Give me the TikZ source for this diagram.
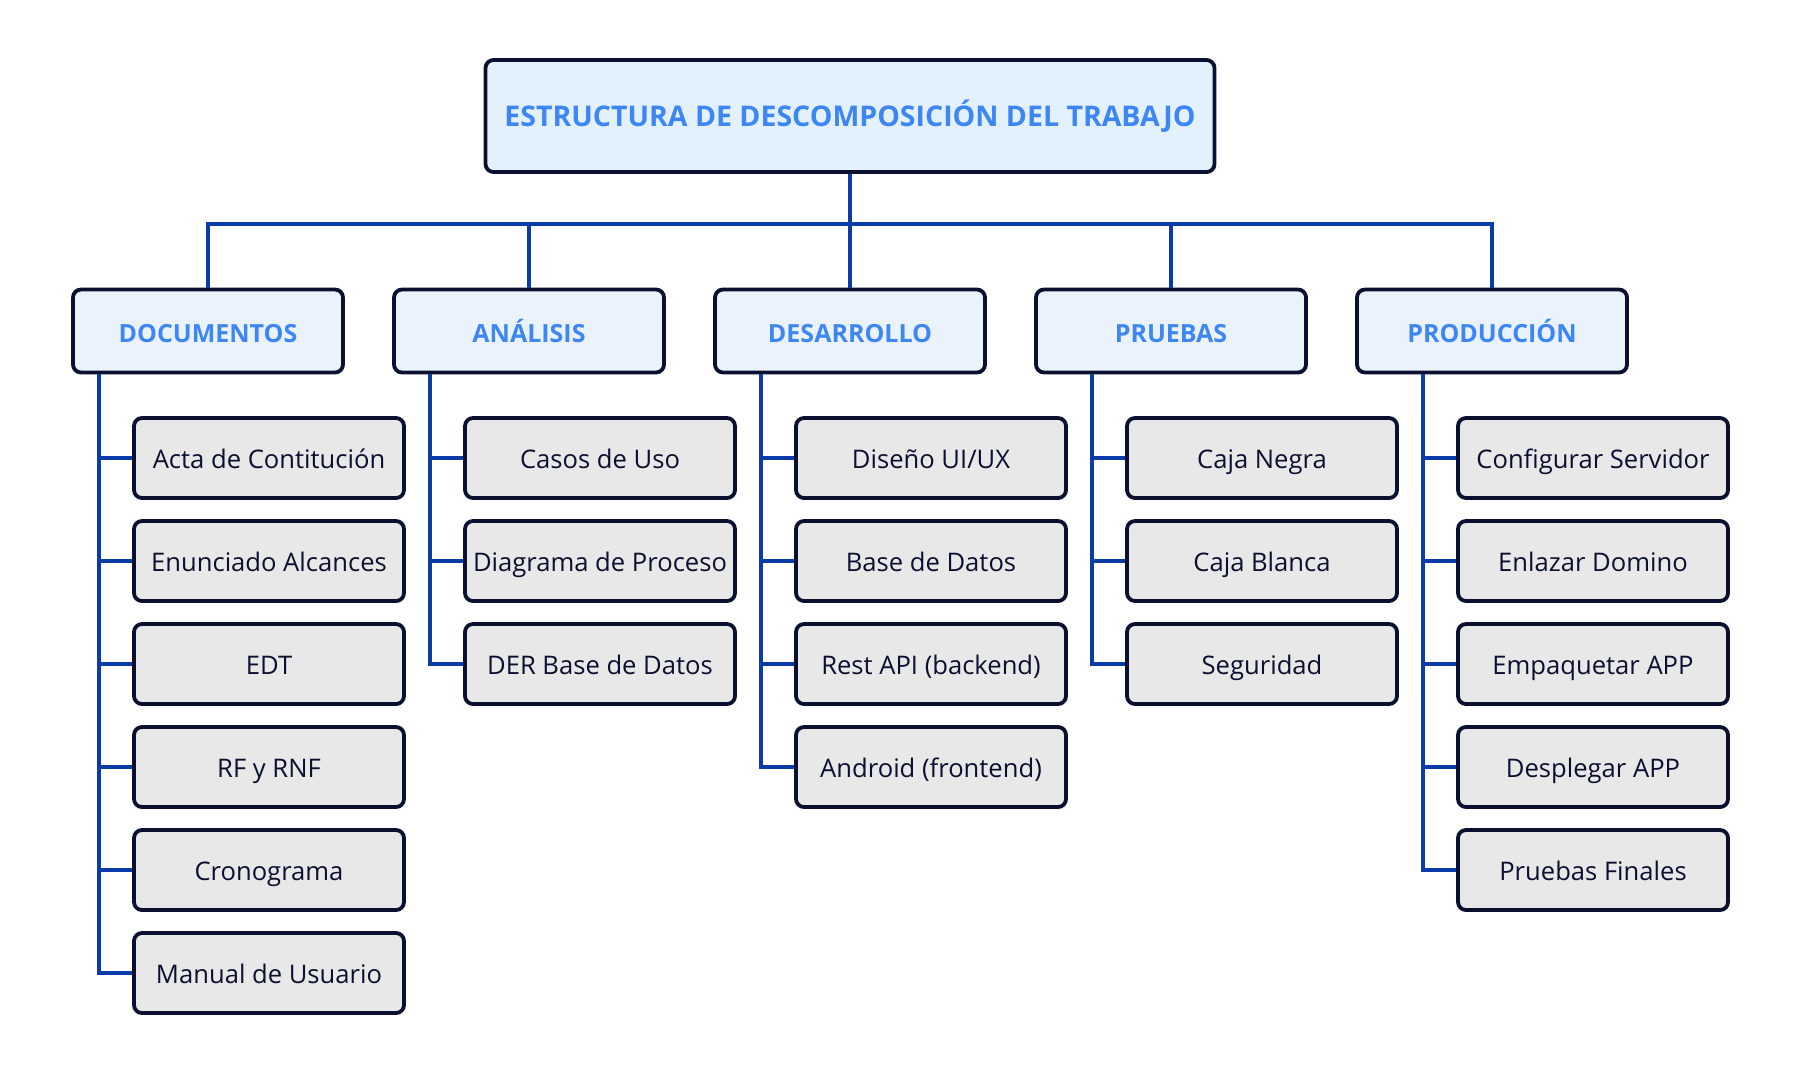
\documentclass[tikz,border=0pt]{standalone}
\usepackage{fontspec}
\setmainfont{Open Sans}
\usetikzlibrary{positioning,calc}
\definecolor{wireblue}{HTML}{0B3BA8}
\definecolor{boxline}{HTML}{0B1030}
\definecolor{titleblue}{HTML}{3E86F5}
\definecolor{rootfill}{HTML}{E3F1FD}
\definecolor{catfill}{HTML}{EAF3FB}
\definecolor{leaffill}{HTML}{E8E8E8}
\tikzset{
  box/.style={draw=boxline,line width=1.9pt,rounded corners=4pt,inner sep=0pt},
  rootbox/.style={box,fill=rootfill,minimum width=364.5pt,minimum height=56pt,
    font=\bfseries\fontsize{14.25}{17}\selectfont,text=titleblue},
  catbox/.style={box,fill=catfill,minimum width=135pt,minimum height=41.5pt,
    text height=11.5pt,text depth=0pt,
    font=\bfseries\fontsize{12.5}{15}\selectfont,text=titleblue},
  leafbox/.style={box,fill=leaffill,minimum width=135pt,minimum height=40pt,
    text height=11pt,text depth=1pt,
    font=\fontsize{12.8}{15}\selectfont,text=boxline},
  wire/.style={draw=wireblue,line width=1.6pt},
}

\begin{document}
\begin{tikzpicture}[x=0.5pt,y=-0.5pt]
  \useasboundingbox (0,0) rectangle (1802,1073);
  \node[rootbox] (root) at (850,116) {ESTRUCTURA DE DESCOMPOSICIÓN DEL TRABAJO};
  \coordinate (bus) at (850,224);
  % second level, hung from the bus
  \foreach \i/\lab in {0/DOCUMENTOS,1/ANÁLISIS,2/DESARROLLO,3/PRUEBAS,4/PRODUCCIÓN}{
    \node[catbox] (cat\i) at (208+321*\i,331) {\lab};
    \draw[wire] (root.south) -- (bus) -| (cat\i.north);
  }
  % work packages, one column per branch
  \foreach \i/\items in {
      0/{Acta de Contitución,Enunciado Alcances,EDT,RF y RNF,Cronograma,Manual de Usuario},
      1/{Casos de Uso,Diagrama de Proceso,DER Base de Datos},
      2/{Diseño UI/UX,Base de Datos,Rest API (backend),Android (frontend)},
      3/{Caja Negra,Caja Blanca,Seguridad},
      4/{Configurar Servidor,Enlazar Domino,Empaquetar APP,Desplegar APP,Pruebas Finales}}{
    \coordinate (spine\i) at (99+331*\i,0);
    \foreach \lab [count=\j] in \items {
      \node[leafbox] (leaf\i-\j) at (269+331*\i,458+103*\j-103) {\lab};
      \draw[wire] (cat\i.south -| spine\i) |- (leaf\i-\j.west);
    }
  }
\end{tikzpicture}
\end{document}
